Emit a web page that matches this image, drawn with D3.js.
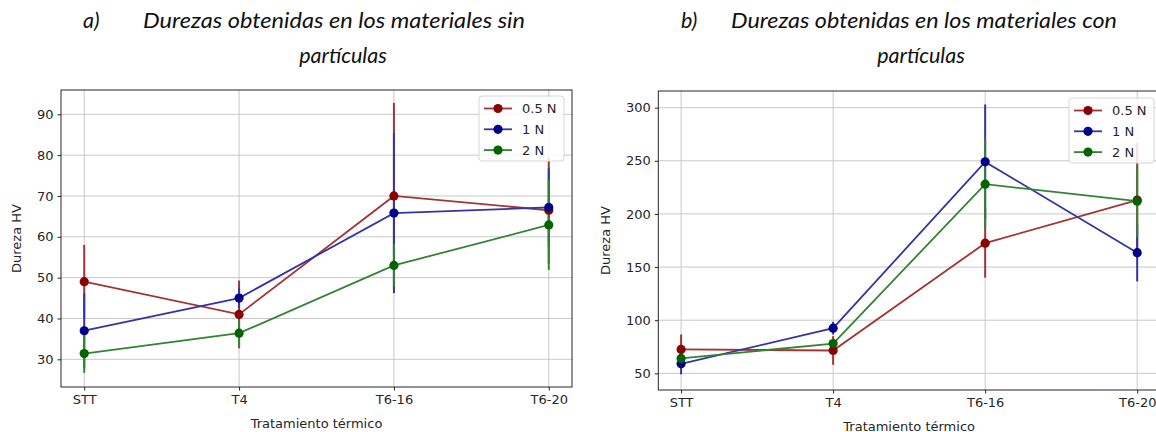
<!DOCTYPE html>
<html>
<head>
<meta charset="utf-8">
<script src="https://cdn.jsdelivr.net/npm/d3@7"></script>
<style>
  html, body { margin: 0; padding: 0; background: #fff; }
  svg { display: block; }
  .tick text { font-family: "DejaVu Sans", sans-serif; fill: #262626; }
</style>
</head>
<body>
<svg id="chart" width="1156" height="432"></svg>
<script>
// Heat-treatment conditions on the x axis
const categories = ["STT", "T4", "T6-16", "T6-20"];
const loads = ["0.5 N", "1 N", "2 N"];

// a) materials without particles: mean hardness (HV) and error per load
const sinMean05 = [49, 41, 70, 66.5];
const sinMean1  = [37, 45, 65.8, 67.2];
const sinMean2  = [31.4, 36.4, 53, 62.9];
const sinErr05  = [9, 8.3, 22.8, 13];
const sinErr1   = [9.2, 2.5, 19.6, 9.6];
const sinErr2   = [4.7, 3.3, 5.2, 11];

// b) materials with particles
const conMean05 = [72.5, 71.5, 172.5, 213];
const conMean1  = [59, 92.5, 249, 163.5];
const conMean2  = [64, 78, 228, 212];
const conErr05  = [14, 13.5, 32.5, 54];
const conErr1   = [10, 6, 54, 27];
const conErr2   = [5, 4, 42, 34];

const sinTicks = [30, 40, 50, 60, 70, 80, 90];
const conTicks = [50, 100, 150, 200, 250, 300];

const lineColors   = ["#a33434", "#3434a3", "#348334"];
const markerColors = ["#8b0000", "#00008b", "#006400"];

const FS = 13;
const svg = d3.select("#chart");

function drawPanel(cfg) {
  const g = svg.append("g");
  const x = d3.scaleLinear().domain([-0.15, categories.length - 1 + 0.15]).range([cfg.left, cfg.right]);
  const y = d3.scaleLinear().domain(cfg.yDomain).range([cfg.bottom, cfg.top]);

  // grid
  g.append("g").selectAll("line").data(cfg.yTicks).join("line")
    .attr("x1", cfg.left).attr("x2", cfg.right)
    .attr("y1", d => y(d)).attr("y2", d => y(d))
    .attr("stroke", "#c8c8c8").attr("stroke-width", 1);
  g.append("g").selectAll("line").data(categories).join("line")
    .attr("x1", (d, i) => x(i)).attr("x2", (d, i) => x(i))
    .attr("y1", cfg.top).attr("y2", cfg.bottom)
    .attr("stroke", "#c8c8c8").attr("stroke-width", 1);

  const series = cfg.means.map((m, s) => m.map((v, i) => ({ i, v, e: cfg.errs[s][i] })));

  // error bars first, then lines with markers on top
  series.forEach((pts, s) => {
    g.append("g").selectAll("line").data(pts).join("line")
      .attr("x1", d => x(d.i)).attr("x2", d => x(d.i))
      .attr("y1", d => y(d.v - d.e)).attr("y2", d => y(d.v + d.e))
      .attr("stroke", lineColors[s]).attr("stroke-width", 2);
  });
  const line = d3.line().x(d => x(d.i)).y(d => y(d.v));
  series.forEach((pts, s) => {
    g.append("path").datum(pts).attr("d", line)
      .attr("fill", "none").attr("stroke", lineColors[s]).attr("stroke-width", 1.8);
    g.append("g").selectAll("circle").data(pts).join("circle")
      .attr("cx", d => x(d.i)).attr("cy", d => y(d.v)).attr("r", 4.6)
      .attr("fill", markerColors[s]);
  });

  // axes
  const xAxis = d3.axisBottom(x).tickValues(d3.range(categories.length))
    .tickFormat(i => categories[i]).tickSizeOuter(0).tickSize(3.5).tickPadding(4.5);
  const gx = g.append("g").attr("transform", `translate(0,${cfg.bottom})`).call(xAxis);
  gx.select(".domain").remove();
  gx.selectAll("line").attr("stroke", "#262626");
  gx.selectAll("text").attr("font-size", FS);

  const yAxis = d3.axisLeft(y).tickValues(cfg.yTicks).tickSizeOuter(0).tickSize(3.5).tickPadding(4);
  const gy = g.append("g").attr("transform", `translate(${cfg.left},0)`).call(yAxis);
  gy.select(".domain").remove();
  gy.selectAll("line").attr("stroke", "#262626");
  gy.selectAll("text").attr("font-size", FS);

  // frame
  g.append("rect").attr("x", cfg.left).attr("y", cfg.top)
    .attr("width", cfg.right - cfg.left).attr("height", cfg.bottom - cfg.top)
    .attr("fill", "none").attr("stroke", "#262626").attr("stroke-width", 1);

  // axis labels
  g.append("text").attr("x", (cfg.left + cfg.right) / 2).attr("y", cfg.bottom + 40.5)
    .attr("text-anchor", "middle").attr("font-family", "DejaVu Sans, sans-serif")
    .attr("font-size", FS).attr("fill", "#262626").text("Tratamiento térmico");
  g.append("text")
    .attr("transform", `translate(${cfg.yLabelX},${(cfg.top + cfg.bottom) / 2}) rotate(-90)`)
    .attr("text-anchor", "middle").attr("font-family", "DejaVu Sans, sans-serif")
    .attr("font-size", FS).attr("fill", "#262626").text("Dureza HV");

  // legend
  const lg = g.append("g").attr("transform", `translate(${cfg.legendX},${cfg.legendY})`);
  lg.append("rect").attr("width", 85).attr("height", 65).attr("rx", 3)
    .attr("fill", "rgba(255,255,255,0.85)").attr("stroke", "#d6d6d6");
  loads.forEach((name, s) => {
    const cy = 12.5 + s * 20.8;
    lg.append("line").attr("x1", 5).attr("x2", 33).attr("y1", cy).attr("y2", cy)
      .attr("stroke", lineColors[s]).attr("stroke-width", 1.8);
    lg.append("circle").attr("cx", 19).attr("cy", cy).attr("r", 4.6).attr("fill", markerColors[s]);
    lg.append("text").attr("x", 43).attr("y", cy + 4.6)
      .attr("font-family", "DejaVu Sans, sans-serif").attr("font-size", FS)
      .attr("fill", "#262626").text(name);
  });

  // title (two lines, italic)
  const t = svg.append("g").attr("font-family", "Lato, 'Open Sans', sans-serif")
    .attr("font-style", "italic").attr("font-weight", 400).attr("font-size", 21.5).attr("fill", "#111");
  t.append("text").attr("x", cfg.titleX).attr("y", 28).text(cfg.letter);
  t.append("text").attr("x", cfg.titleX + cfg.titleGap).attr("y", 28)
    .attr("textLength", cfg.title1W).attr("lengthAdjust", "spacingAndGlyphs").text(cfg.title1);
  t.append("text").attr("x", cfg.title2X).attr("y", 63).attr("text-anchor", "middle").text(cfg.title2);
}

drawPanel({
  left: 61, right: 572, top: 90, bottom: 387,
  yDomain: [23.22, 95.95], yTicks: sinTicks,
  means: [sinMean05, sinMean1, sinMean2], errs: [sinErr05, sinErr1, sinErr2],
  yLabelX: 21, legendX: 479, legendY: 96,
  titleX: 83, titleGap: 60, title1W: 382, letter: "a)", title1: "Durezas obtenidas en los materiales sin",
  title2X: 343, title2: "partículas"
});

drawPanel({
  left: 658.3, right: 1160, top: 91, bottom: 390,
  yDomain: [34.3, 315.7], yTicks: conTicks,
  means: [conMean05, conMean1, conMean2], errs: [conErr05, conErr1, conErr2],
  yLabelX: 610, legendX: 1069, legendY: 98,
  titleX: 681, titleGap: 50, title1W: 386, letter: "b)", title1: "Durezas obtenidas en los materiales con",
  title2X: 921, title2: "partículas"
});
</script>
</body>
</html>
